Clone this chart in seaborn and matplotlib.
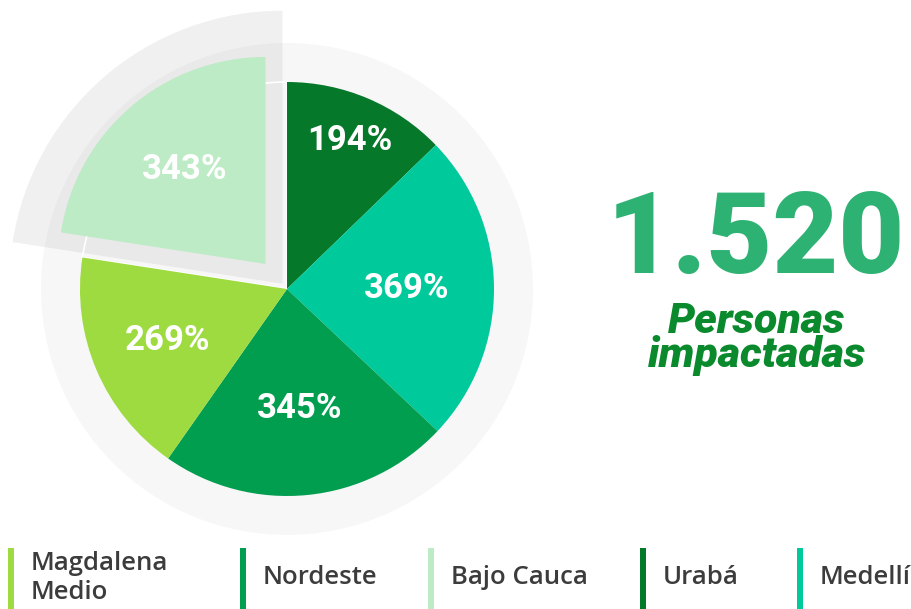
import matplotlib
matplotlib.use("Agg")
import matplotlib.pyplot as plt
from matplotlib.patches import Circle, Wedge, Rectangle
import numpy as np
import seaborn as sns

# Data
regions = ["Urabá", "Medellín", "Nordeste", "Magdalena Medio", "Bajo Cauca"]
personas = [194, 369, 345, 269, 343]
slice_colors = ["#06782a", "#00ca9c", "#029e50", "#9edb40", "#bdebc5"]
highlight = "Bajo Cauca"

legend_order = ["Magdalena\nMedio", "Nordeste", "Bajo Cauca", "Urabá", "Medellín"]
legend_colors = ["#9edb40", "#029e50", "#bdebc5", "#06782a", "#00ca9c"]

total_label = "1.520"
subtitle_lines = ["Personas", "impactadas"]

sns.set_theme(style="white")
plt.rcParams["font.family"] = ["Roboto", "DejaVu Sans"]

W, H = 912, 609
fig = plt.figure(figsize=(W / 100, H / 100), dpi=100, facecolor="white")
ax = fig.add_axes([0, 0, 1, 1])

cx, cy, R = 287, 320, 207
hi = regions.index(highlight)
explode = [0] * len(personas)
explode[hi] = 33

# Soft halo ring behind the pie
ax.add_patch(Circle((cx, cy), 246, facecolor=(0.5, 0.5, 0.5), alpha=0.063,
                    edgecolor="none", zorder=0))

wedges, _ = ax.pie(personas, startangle=90, counterclock=False,
                   center=(cx, cy), radius=R, colors=slice_colors,
                   explode=explode, wedgeprops=dict(linewidth=0, zorder=3))

# Shadow sector behind the highlighted slice
hw = wedges[hi]
mid = np.deg2rad((hw.theta1 + hw.theta2) / 2)
ax.add_patch(Wedge((cx + 7 * np.cos(mid), cy + 7 * np.sin(mid)), 273,
                   hw.theta1, hw.theta2, facecolor=(0.5, 0.5, 0.5),
                   alpha=0.118, edgecolor="none", zorder=1))
ax.add_patch(Wedge((cx, cy), R, hw.theta1, hw.theta2, facecolor="none",
                   edgecolor="white", linewidth=1.2, zorder=2))

# Value labels inside each slice
label_dist = [0.78, 0.58, 0.58, 0.63, 0.60]
for w, v, d in zip(wedges, personas, label_dist):
    t = np.deg2rad((w.theta1 + w.theta2) / 2)
    x0, y0 = w.center
    ax.text(x0 + d * w.r * np.cos(t), y0 + d * w.r * np.sin(t), f"{v}%",
            color="white", fontsize=25, fontweight="bold",
            ha="center", va="center", zorder=5)

# Headline total
ax.text(756, 336, total_label, color="#2eb273", fontsize=82,
        fontweight="black", ha="center", va="baseline")
ax.text(757, 276, subtitle_lines[0], color="#0a8a2c", fontsize=31,
        fontweight="heavy", fontstyle="italic", ha="center", va="baseline")
ax.text(757, 242, subtitle_lines[1], color="#0a8a2c", fontsize=31,
        fontweight="heavy", fontstyle="italic", ha="center", va="baseline")

# Legend: colored bars with region names
legend_x = [8, 240, 428, 640, 797]
for x, name, col in zip(legend_x, legend_order, legend_colors):
    ax.add_patch(Rectangle((x, 0), 6, 61, facecolor=col, edgecolor="none"))
    ax.text(x + 23, 31, name, color="#3c3c3c", fontsize=18.5,
            family=["Open Sans", "DejaVu Sans"], fontweight="semibold",
            ha="left", va="center", linespacing=1.2)

ax.set_xlim(0, W)
ax.set_ylim(0, H)
ax.set_aspect("equal")
ax.axis("off")

fig.savefig("out.png", dpi=100, facecolor="white")
